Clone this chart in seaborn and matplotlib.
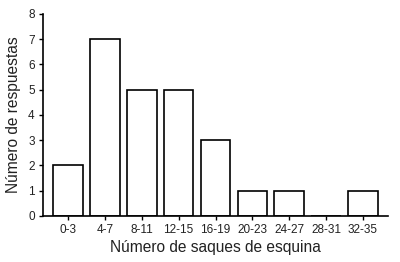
import matplotlib
matplotlib.use("Agg")
import matplotlib.pyplot as plt
import seaborn as sns
import pandas as pd

categories = ["0-3", "4-7", "8-11", "12-15", "16-19", "20-23", "24-27", "28-31", "32-35"]
counts = [2, 7, 5, 5, 3, 1, 1, 0, 1]
yticks = [0, 1, 2, 3, 4, 5, 6, 7, 8]

sns.set_theme(style="ticks")
plt.rcParams["font.family"] = ["Liberation Sans", "DejaVu Sans"]

df = pd.DataFrame({"cat": categories, "n": counts})

fig = plt.figure(figsize=(4.0, 2.62), dpi=100)
ax = fig.add_axes([0.1075, 0.1756, 0.8625, 0.771])
sns.barplot(data=df, x="cat", y="n", ax=ax, color="white", edgecolor="black",
            linewidth=1.2, width=0.8, saturation=1)
ax.set_xlim(-0.68, 8.68)
ax.set_ylim(0, 8)
ax.set_yticks(yticks)
ax.tick_params(axis="both", labelsize=8.5, length=3, width=1, color="black",
               labelcolor="#222222", pad=3)
ax.set_xlabel("Número de saques de esquina", fontsize=11.2, labelpad=3, color="#222222")
ax.set_ylabel("Número de respuestas", fontsize=11.2, labelpad=5, color="#222222")
for s in ["top", "right"]:
    ax.spines[s].set_visible(False)
for s in ["left", "bottom"]:
    ax.spines[s].set_linewidth(1.2)
    ax.spines[s].set_color("black")
fig.savefig("out.png", dpi=100)
